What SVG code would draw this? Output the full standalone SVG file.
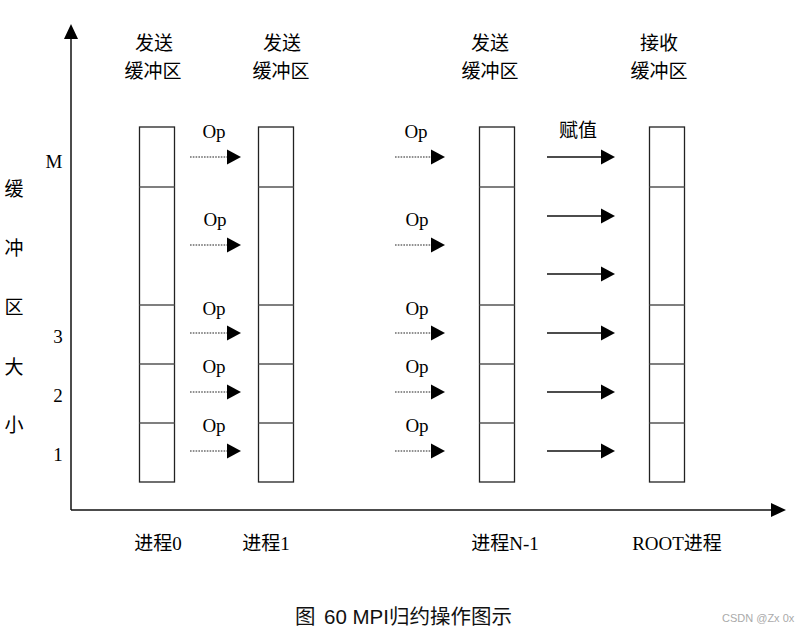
<svg xmlns="http://www.w3.org/2000/svg" width="803" height="633" viewBox="0 0 803 633">
<style>
.buf{fill:#fff;stroke:#222;stroke-width:1.3}
.div{stroke:#555;stroke-width:1.3}
.axis{stroke:#111;stroke-width:1.5;fill:none}
.dot{stroke:#222;stroke-width:1.2;stroke-dasharray:1.6 1.2;fill:none}
.sol{stroke:#111;stroke-width:1.3;fill:none}
.hd{fill:#000}
.t{font-family:"Liberation Serif","Noto Sans CJK SC",serif;font-size:19px;fill:#000;text-anchor:middle}
.c{font-family:"Noto Sans CJK SC",sans-serif;font-size:19px;fill:#000;text-anchor:middle}
.cap{font-family:"Liberation Sans","Noto Sans CJK SC",sans-serif;font-size:20.5px;fill:#111}
.wm{font-family:"Liberation Sans",sans-serif;font-size:11px;fill:#aaa}
</style>
<defs>
<polygon id="ah" points="0,-7.5 14,0 0,7.5"/>
</defs>
<g id="axes">
<line class="axis" x1="71" y1="36" x2="71" y2="510"/>
<polygon class="hd" points="64,39 71,24 78,39"/>
<line class="axis" x1="71" y1="510" x2="772" y2="510"/>
<polygon class="hd" points="771,503 786,510 771,517"/>
</g>
<g id="ylabels">
<text class="c" x="14" y="196">缓</text>
<text class="c" x="14" y="255">冲</text>
<text class="c" x="14" y="314">区</text>
<text class="c" x="14" y="374">大</text>
<text class="c" x="14" y="432">小</text>
<text class="t" x="54" y="168">M</text>
<text class="t" x="58" y="343">3</text>
<text class="t" x="58" y="402">2</text>
<text class="t" x="58" y="461">1</text>
</g>
<g id="buf0">
<text class="c" x="154" y="50">发送</text>
<text class="c" x="153" y="78">缓冲区</text>
<rect class="buf" x="139.5" y="127" width="35" height="355"/>
<line class="div" x1="139.5" y1="187" x2="174.5" y2="187"/>
<line class="div" x1="139.5" y1="305" x2="174.5" y2="305"/>
<line class="div" x1="139.5" y1="364" x2="174.5" y2="364"/>
<line class="div" x1="139.5" y1="423" x2="174.5" y2="423"/>
<text class="t" x="158" y="550">进程0</text>
</g>
<g id="buf1">
<text class="c" x="282" y="50">发送</text>
<text class="c" x="281" y="78">缓冲区</text>
<rect class="buf" x="258.5" y="127" width="35" height="355"/>
<line class="div" x1="258.5" y1="187" x2="293.5" y2="187"/>
<line class="div" x1="258.5" y1="305" x2="293.5" y2="305"/>
<line class="div" x1="258.5" y1="364" x2="293.5" y2="364"/>
<line class="div" x1="258.5" y1="423" x2="293.5" y2="423"/>
<text class="t" x="266" y="550">进程1</text>
</g>
<g id="bufN1">
<text class="c" x="490" y="50">发送</text>
<text class="c" x="490" y="78">缓冲区</text>
<rect class="buf" x="479.5" y="127" width="35" height="355"/>
<line class="div" x1="479.5" y1="187" x2="514.5" y2="187"/>
<line class="div" x1="479.5" y1="305" x2="514.5" y2="305"/>
<line class="div" x1="479.5" y1="364" x2="514.5" y2="364"/>
<line class="div" x1="479.5" y1="423" x2="514.5" y2="423"/>
<text class="t" x="505" y="550">进程N-1</text>
</g>
<g id="bufRoot">
<text class="c" x="659" y="50">接收</text>
<text class="c" x="659" y="78">缓冲区</text>
<rect class="buf" x="649.5" y="127" width="35" height="355"/>
<line class="div" x1="649.5" y1="187" x2="684.5" y2="187"/>
<line class="div" x1="649.5" y1="305" x2="684.5" y2="305"/>
<line class="div" x1="649.5" y1="364" x2="684.5" y2="364"/>
<line class="div" x1="649.5" y1="423" x2="684.5" y2="423"/>
<text class="t" x="677" y="550">ROOT进程</text>
</g>
<g id="connectors">
<g id="op-col1">
<line class="dot" x1="190" y1="157" x2="228" y2="157"/><use href="#ah" x="227" y="157"/>
<line class="dot" x1="190" y1="245" x2="228" y2="245"/><use href="#ah" x="227" y="245"/>
<line class="dot" x1="190" y1="333" x2="228" y2="333"/><use href="#ah" x="227" y="333"/>
<line class="dot" x1="190" y1="392" x2="228" y2="392"/><use href="#ah" x="227" y="392"/>
<line class="dot" x1="190" y1="451" x2="228" y2="451"/><use href="#ah" x="227" y="451"/>
<text class="t" x="214" y="138">Op</text>
<text class="t" x="215" y="226">Op</text>
<text class="t" x="214" y="315">Op</text>
<text class="t" x="214" y="373">Op</text>
<text class="t" x="214" y="432">Op</text>
</g>
<g id="op-col2">
<line class="dot" x1="395" y1="157" x2="432" y2="157"/><use href="#ah" x="431" y="157"/>
<line class="dot" x1="395" y1="245" x2="432" y2="245"/><use href="#ah" x="431" y="245"/>
<line class="dot" x1="395" y1="333" x2="432" y2="333"/><use href="#ah" x="431" y="333"/>
<line class="dot" x1="395" y1="392" x2="432" y2="392"/><use href="#ah" x="431" y="392"/>
<line class="dot" x1="395" y1="451" x2="432" y2="451"/><use href="#ah" x="431" y="451"/>
<text class="t" x="416" y="138">Op</text>
<text class="t" x="417" y="226">Op</text>
<text class="t" x="417" y="315">Op</text>
<text class="t" x="417" y="373">Op</text>
<text class="t" x="417" y="432">Op</text>
</g>
<g id="assign">
<line class="sol" x1="547" y1="157" x2="602" y2="157"/><use href="#ah" x="601" y="157"/>
<line class="sol" x1="547" y1="216" x2="602" y2="216"/><use href="#ah" x="601" y="216"/>
<line class="sol" x1="547" y1="274" x2="602" y2="274"/><use href="#ah" x="601" y="274"/>
<line class="sol" x1="547" y1="333" x2="602" y2="333"/><use href="#ah" x="601" y="333"/>
<line class="sol" x1="547" y1="392" x2="602" y2="392"/><use href="#ah" x="601" y="392"/>
<line class="sol" x1="547" y1="451" x2="602" y2="451"/><use href="#ah" x="601" y="451"/>
<text class="c" x="578" y="137">赋值</text>
</g>
</g>
<g id="caption">
<text class="cap" x="295" y="624">图</text>
<text class="cap" x="324" y="624">60 MPI归约操作图示</text>
<text class="wm" x="722" y="622">CSDN @Zx 0x</text>
</g>
</svg>
